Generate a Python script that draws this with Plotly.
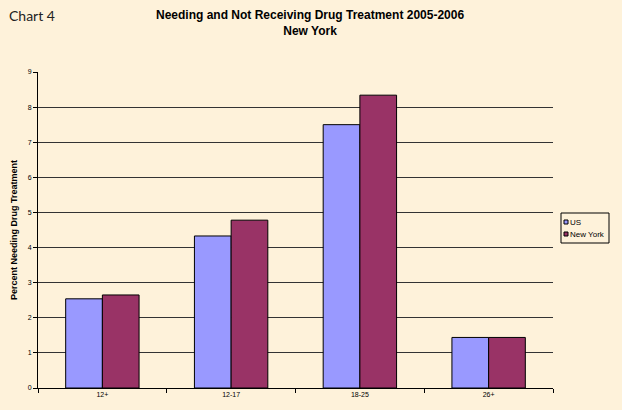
import plotly.graph_objects as go

categories = ["12+", "12-17", "18-25", "26+"]
us_values = [2.54, 4.33, 7.50, 1.44]
ny_values = [2.65, 4.78, 8.34, 1.44]
y_ticks = [0, 1, 2, 3, 4, 5, 6, 7, 8, 9]
series_names = ["US", "New York"]
series_colors = ["#9999FF", "#993366"]

bg = "#FEF2DA"
W, H = 622, 410
ML, MR, MT, MB = 38, 69, 72, 22
PW, PH = W - ML - MR, H - MT - MB


def px(x):
    return (x - ML) / PW


def py(y):
    return 1 - (y - MT) / PH


fig = go.Figure()
for name, vals, col in zip(series_names, [us_values, ny_values], series_colors):
    fig.add_trace(go.Bar(name=name, x=categories, y=vals,
                         marker=dict(color=col, line=dict(color="#000000", width=1))))

annotations = [
    dict(text="Chart 4", x=px(7), y=py(16), xref="paper", yref="paper", showarrow=False,
         font=dict(family="Lato, Noto Sans", size=14, color="#222"),
         xanchor="left", yanchor="middle"),
    dict(text="<b>Needing and Not Receiving Drug Treatment 2005-2006<br>New York</b>",
         x=px(310), y=py(23), xref="paper", yref="paper", showarrow=False,
         font=dict(family="Liberation Sans, Arial", size=12, color="#000"),
         xanchor="center", yanchor="middle"),
    dict(text="<b>Percent Needing Drug Treatment</b>", x=px(14), y=0.5, textangle=-90,
         xref="paper", yref="paper", showarrow=False,
         font=dict(family="Liberation Sans, Arial", size=9, color="#000"),
         xanchor="center", yanchor="middle"),
]
shapes = [
    dict(type="rect", xref="paper", yref="paper", x0=px(561), x1=px(609), y0=py(243), y1=py(213),
         line=dict(color="#000", width=1), fillcolor=bg, layer="above"),
]
for i, (name, col) in enumerate(zip(series_names, series_colors)):
    cy = 222 + i * 12
    shapes.append(dict(type="rect", xref="paper", yref="paper", x0=px(564), x1=px(568),
                       y0=py(cy + 2), y1=py(cy - 2), line=dict(color="#000", width=1),
                       fillcolor=col, layer="above"))
    annotations.append(dict(text=name, x=px(568), y=py(cy), xref="paper", yref="paper",
                            showarrow=False, xanchor="left", yanchor="middle",
                            font=dict(family="Liberation Sans, Arial", size=8, color="#000")))

fig.update_layout(
    width=W, height=H,
    paper_bgcolor=bg, plot_bgcolor=bg,
    margin=dict(l=ML, r=MR, t=MT, b=MB),
    barmode="group", bargap=0.43, bargroupgap=0,
    font=dict(family="Liberation Sans, Arial", size=7, color="#000"),
    showlegend=False,
    annotations=annotations,
    shapes=shapes,
)

fig.update_xaxes(showline=True, linecolor="#000", linewidth=1, ticks="outside",
                 tickson="boundaries", ticklen=4, tickcolor="#000",
                 tickfont=dict(size=7), showgrid=False, automargin=False)
fig.update_yaxes(range=[0, 9], tickvals=y_ticks, showline=True, linecolor="#000", linewidth=1,
                 ticks="outside", ticklen=4, tickcolor="#000", tickfont=dict(size=7),
                 showgrid=True, gridcolor="#333", gridwidth=1, zeroline=False, automargin=False)

fig.write_html("out.html", config={"displayModeBar": False},
               post_script="document.body.style.margin='0px';document.body.style.background='#FEF2DA';")
